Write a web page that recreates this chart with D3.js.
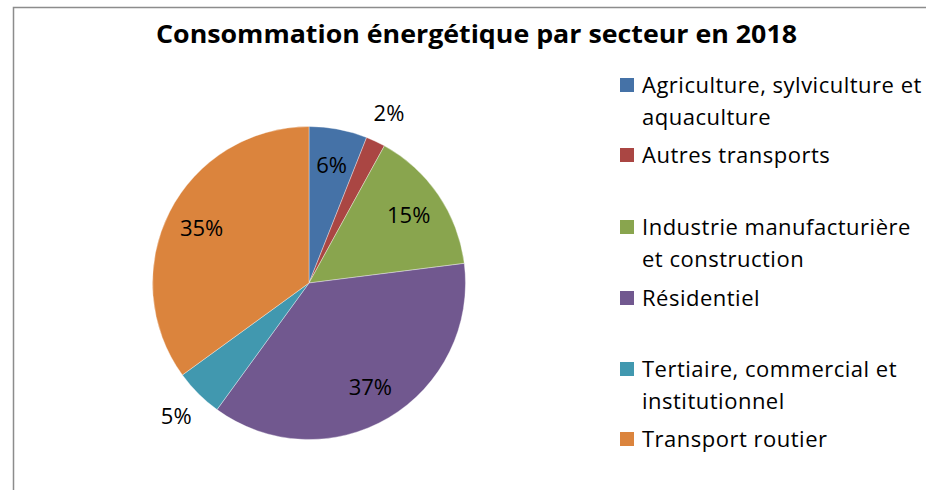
<!DOCTYPE html>
<html>
<head>
<meta charset="utf-8">
<script src="https://cdn.jsdelivr.net/npm/d3@7"></script>
<style>
  html, body { margin: 0; padding: 0; background: #fff; }
  svg { display: block; }
  text { font-family: "Open Sans", "Noto Sans", sans-serif; fill: #000; }
</style>
</head>
<body>
<svg id="chart" width="926" height="490"></svg>
<script>
// Energy consumption by sector, 2018 (percent shares)
const titleText = "Consommation énergétique par secteur en 2018";
const sectors = [
  "Agriculture, sylviculture et aquaculture",
  "Autres transports",
  "Industrie manufacturière et construction",
  "Résidentiel",
  "Tertiaire, commercial et institutionnel",
  "Transport routier"
];
// legend labels wrapped over one or two lines
const legendLines = [
  ["Agriculture, sylviculture et", "aquaculture"],
  ["Autres transports"],
  ["Industrie manufacturière", "et construction"],
  ["Résidentiel"],
  ["Tertiaire, commercial et", "institutionnel"],
  ["Transport routier"]
];
const shares = [6, 2, 15, 37, 5, 35];
const palette = ["#4572A7", "#AA4643", "#89A54E", "#71588F", "#4198AF", "#DB843D"];

const svg = d3.select("#chart");
const W = 926, H = 490;

// outer chart frame
svg.append("rect")
  .attr("x", 13.5).attr("y", 7.5)
  .attr("width", W).attr("height", H)
  .attr("fill", "#fff")
  .attr("stroke", "#8c8c8c").attr("stroke-width", 1.5);

// title
svg.append("text")
  .attr("x", 476.5).attr("y", 43)
  .attr("text-anchor", "middle")
  .attr("font-size", 24.5).attr("font-weight", "bold")
  .attr("textLength", 641).attr("lengthAdjust", "spacingAndGlyphs")
  .text(titleText);

// pie
const cx = 309, cy = 283, R = 156.5;
const color = d3.scaleOrdinal().domain(sectors).range(palette);
const pie = d3.pie().sort(null).value(d => d.value);
const data = sectors.map((s, i) => ({ name: s, value: shares[i] }));
const arcs = pie(data);
const arc = d3.arc().innerRadius(0).outerRadius(R);
const inLabel = d3.arc().innerRadius(R * 0.77).outerRadius(R * 0.77);
const outLabel = d3.arc().innerRadius(R * 1.2).outerRadius(R * 1.2);

const g = svg.append("g").attr("transform", `translate(${cx},${cy})`);
g.selectAll("path.slice")
  .data(arcs)
  .join("path")
  .attr("class", "slice")
  .attr("d", arc)
  .attr("fill", d => color(d.data.name))
  .attr("stroke", "rgba(255,255,255,0.6)")
  .attr("stroke-width", 0.6);

const total = d3.sum(shares);
g.selectAll("text.pct")
  .data(arcs)
  .join("text")
  .attr("class", "pct")
  .attr("transform", d => {
    const small = d.data.value / total < 0.055;
    const [x, y] = (small ? outLabel : inLabel).centroid(d);
    return `translate(${x},${y})`;
  })
  .attr("text-anchor", "middle")
  .attr("dy", "0.36em")
  .attr("font-size", 22)
  .text(d => d3.format(".0%")(d.data.value / total));

// legend
const legendBaselines = [93, 163, 235, 306, 377, 447];
const lineGap = 32;
const leg = svg.append("g");
legendLines.forEach((lines, i) => {
  const y = legendBaselines[i];
  leg.append("rect")
    .attr("x", 620).attr("y", y - 15)
    .attr("width", 14).attr("height", 14)
    .attr("fill", color(sectors[i]));
  lines.forEach((ln, k) => {
    leg.append("text")
      .attr("x", 642).attr("y", y + k * lineGap)
      .attr("font-size", 22)
      .attr("letter-spacing", 0.5)
      .text(ln);
  });
});
</script>
</body>
</html>
